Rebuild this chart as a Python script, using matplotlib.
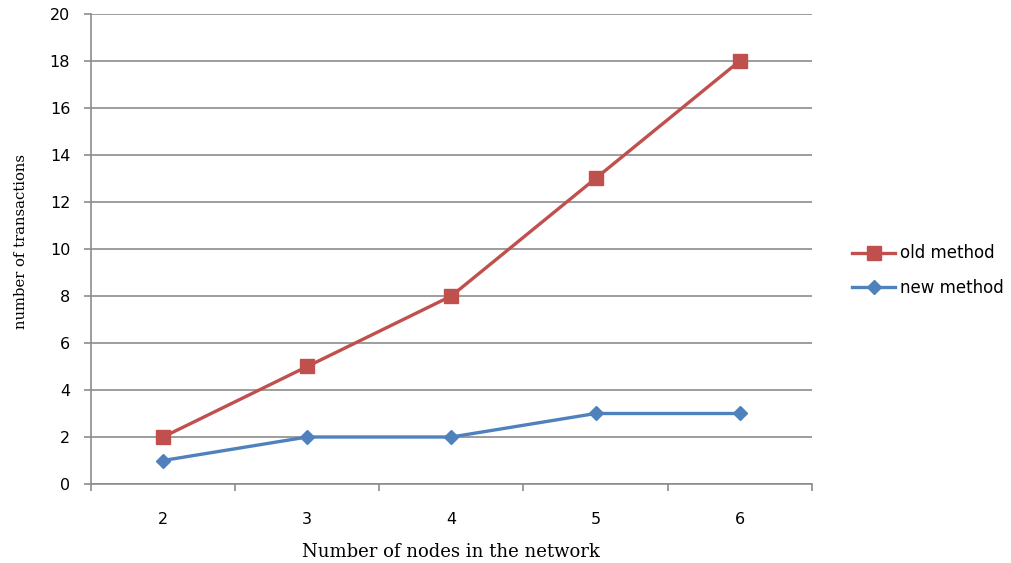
import matplotlib

matplotlib.use("Agg")
import matplotlib.pyplot as plt
from matplotlib.ticker import FixedLocator

nodes = ["2", "3", "4", "5", "6"]
old_method = [2, 5, 8, 13, 18]
new_method = [1, 2, 2, 3, 3]

RED = "#C0504D"
BLUE = "#4F81BD"
GRID = "#8c8c8c"

fig = plt.figure(figsize=(10.11, 5.63), dpi=100)
ax = fig.add_axes([0.090, 0.1403, 0.713, 0.835])

x = list(range(len(nodes)))
ax.plot(x, old_method, color=RED, lw=2.4, marker="s", ms=10.5,
        mec=RED, mfc=RED, label="old method", zorder=3)
ax.plot(x, new_method, color=BLUE, lw=2.4, marker="D", ms=7.5,
        mec=BLUE, mfc=BLUE, label="new method", zorder=3)

ax.set_xlim(-0.5, len(nodes) - 0.5)
ax.set_ylim(0, 20)
ax.set_yticks(range(0, 21, 2))
ax.yaxis.grid(True, color=GRID, lw=1.2)
ax.set_axisbelow(True)

# category ticks sit between the categories, labels sit on them
ax.xaxis.set_major_locator(FixedLocator([i - 0.5 for i in range(len(nodes) + 1)]))
ax.xaxis.set_minor_locator(FixedLocator(x))
ax.set_xticklabels([""] * (len(nodes) + 1))
ax.set_xticklabels(nodes, minor=True)
ax.tick_params(axis="x", which="major", length=5, width=1.2, color=GRID)
ax.tick_params(axis="x", which="minor", length=0, pad=20, labelsize=11.5)
ax.tick_params(axis="y", length=5, width=1.2, color=GRID, labelsize=11.5, pad=10)

for side in ("top", "right"):
    ax.spines[side].set_visible(False)
for side in ("left", "bottom"):
    ax.spines[side].set_color(GRID)
    ax.spines[side].set_linewidth(1.2)

ax.set_ylabel("number of transactions", family="DejaVu Serif", fontsize=10.6)
ax.yaxis.set_label_coords(-0.087, 0.515)
ax.set_xlabel("Number of nodes in the network", family="DejaVu Serif", fontsize=13, labelpad=12)

fig.legend(loc="center left", bbox_to_anchor=(0.828, 0.519), frameon=False,
           fontsize=12, handlelength=2.6, handletextpad=0.3, labelspacing=1.0)

fig.savefig("out.png", dpi=100)
